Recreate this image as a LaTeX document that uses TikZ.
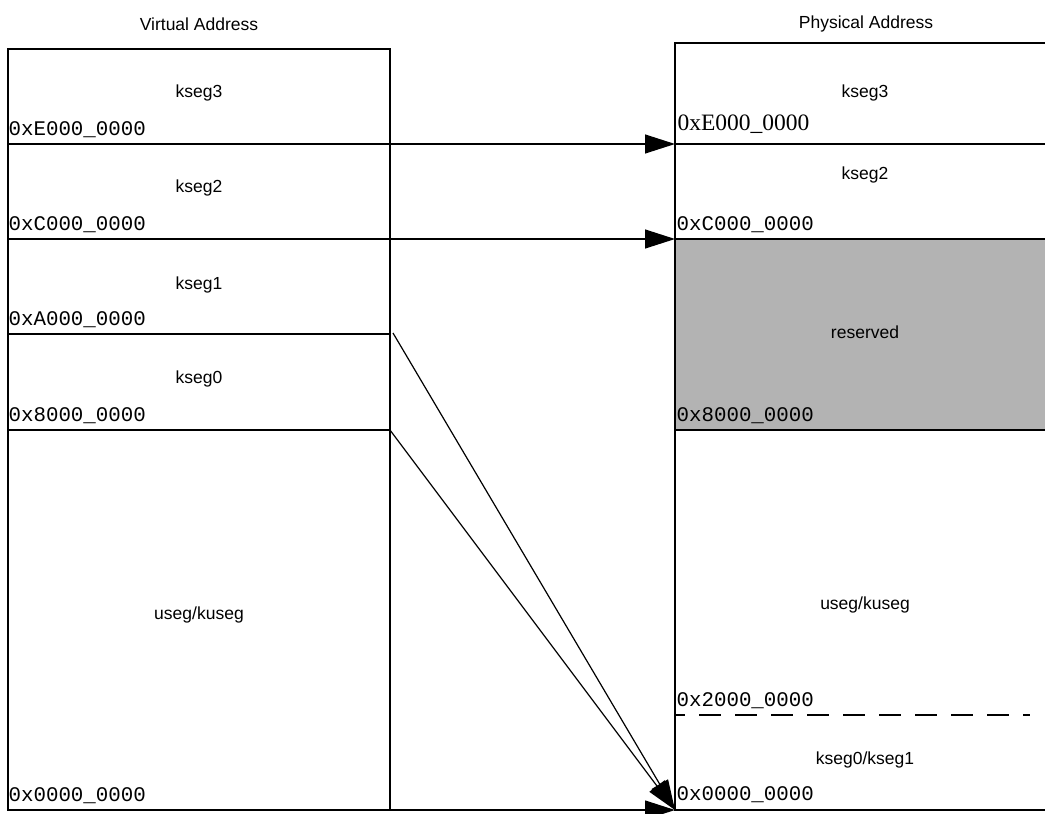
\documentclass[tikz,border=0pt]{standalone}
\usepackage{fontspec}
\setmainfont{Liberation Sans}
\newfontfamily\addrmono{Liberation Mono}
\newfontfamily\addrserif{Liberation Serif}
\usetikzlibrary{arrows.meta, calc}
\definecolor{resgray}{RGB}{179,179,179}
\tikzset{
    seglabel/.style={font=\fontsize{17.5}{19}\selectfont, inner sep=0pt},
    addr/.style={font=\addrmono\fontsize{20.8}{22}\selectfont, anchor=base west, inner sep=0pt},
    mapto/.style={-{Triangle[length=30pt, width=19pt]}, line width=1.2pt},
}

\begin{document}
\begin{tikzpicture}[x=1pt, y=-1pt, line width=1.2pt]
    \useasboundingbox (0,0) rectangle (1045,814);

    % virtual side
    \coordinate (vtl) at (8,49);
    \coordinate (vbr) at (390,810);
    \draw (vtl) rectangle (vbr);
    \foreach \y/\n in {144/3, 239/2, 334/1, 430/0} {
      \coordinate (v\n) at (390,\y);
      \draw (8,\y) -- (v\n);
    }
    \coordinate (v1s) at (393,333);
    \coordinate (vu) at (390,810);

    \node[seglabel] (vtitle) at (199,24) {Virtual Address};
    \node[seglabel] (vk3) at (199,93) {kseg3};
    \node[seglabel] (vk2) at (199,188) {kseg2};
    \node[seglabel] (vk1) at (199,285) {kseg1};
    \node[seglabel] (vk0) at (199,379) {kseg0};
    \node[seglabel] (vus) at (199,615) {useg/kuseg};

    \node[addr] (va3) at (8,135.5) {0xE000\_0000};
    \node[addr] (va2) at (8,230.5) {0xC000\_0000};
    \node[addr] (va1) at (8,325.5) {0xA000\_0000};
    \node[addr] (va0) at (8,421.5) {0x8000\_0000};
    \node[addr] (vau) at (8,801.5) {0x0000\_0000};

    % physical side
    \fill[resgray] (675,239) rectangle (1045,430);
    \draw (1045,43) -- (675,43) -- (675,810) -- (1045,810);
    \foreach \y in {144, 239, 430}
      \draw (675,\y) -- (1045,\y);
    \draw[dash pattern=on 22pt off 14pt, dash phase=12pt] (675,715) -- (1030,715);
    \coordinate (p3) at (675,144);
    \coordinate (p2) at (675,239);
    \coordinate (p0) at (675,810);

    \node[seglabel] (ptitle) at (866,24) {Physical Address};
    \node[seglabel] (pk3) at (865,93) {kseg3};
    \node[seglabel] (pk2) at (865,175) {kseg2};
    \node[seglabel] (pres) at (865,332) {reserved};
    \node[seglabel] (pus) at (865,605) {useg/kuseg};
    \node[seglabel] (pk01) at (865,760) {kseg0/kseg1};

    \node[addr, font=\addrserif\fontsize{23.5}{25}\selectfont] (pa3) at (677,130) {0xE000\_0000};
    \node[addr] (pa2) at (676,230.5) {0xC000\_0000};
    \node[addr] (pa8) at (676,421.5) {0x8000\_0000};
    \node[addr] (pa2k) at (676,706) {0x2000\_0000};
    \node[addr] (pa0) at (676,800.5) {0x0000\_0000};

    % mappings
    \draw[mapto] (v3) -- (p3);
    \draw[mapto] (v2) -- (p2);
    \draw[mapto] (v1s) -- (p0);
    \draw[mapto] (v0) -- (p0);
    \draw[mapto] (vu) -- (p0);
\end{tikzpicture}
\end{document}
